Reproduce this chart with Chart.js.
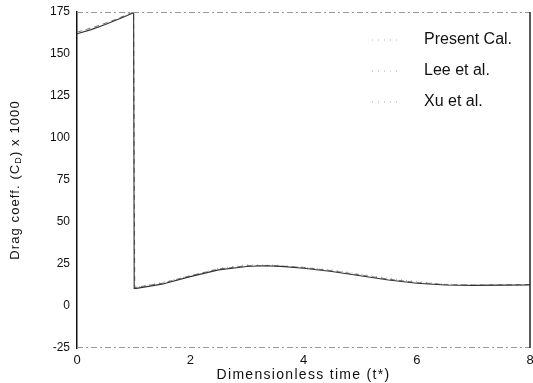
<!DOCTYPE html>
<html lang="en">
<head>
  <meta charset="UTF-8" />
  <title>Drag coefficient</title>
  <style>
    html, body { margin: 0; padding: 0; background: #fff; }
    #wrap { width: 533px; height: 383px; }
  </style>
</head>
<body>
  <div id="wrap"><canvas id="myChart" width="533" height="383"></canvas></div>
  <script src="https://cdn.jsdelivr.net/npm/chart.js@4.4.1/dist/chart.umd.min.js"></script>
  <script>
    // series data (t*, Cd x 1000)
    const presentT = [0, 0.25, 0.5, 0.75, 1.0, 1.01, 1.05, 1.5, 2, 2.5, 3, 3.3, 3.6, 4, 4.5, 5, 5.5, 6, 6.5, 7, 7.5, 8];
    const presentCd = [162, 164.5, 167.5, 171, 174.5, 10.5, 10.5, 13, 17.5, 21.5, 23.5, 24, 23.6, 22.5, 20.5, 18, 15.5, 13.5, 12.5, 12.3, 12.4, 12.5];
    const leeT = [0, 0.3, 0.6, 1.0, 1.02, 1.5, 2, 2.5, 3, 3.5, 4, 4.5, 5, 5.5, 6, 6.5, 7, 7.5, 8];
    const leeCd = [163, 166, 169.5, 175, 11, 13.5, 18, 22, 24, 24, 23, 21, 18.5, 16, 14, 12.8, 12.4, 12.6, 12.8];
    const xuT = [1.1, 1.5, 2, 2.5, 3, 3.5, 4, 4.5, 5, 5.5, 6, 6.5, 7, 7.5, 8];
    const xuCd = [11.5, 14, 18, 22.5, 24.5, 24.3, 23, 21.5, 19, 16.5, 14.5, 13, 12.5, 12.3, 12.5];

    const seriesNames = ["Present Cal.", "Lee et al.", "Xu et al."];
    const yTicks = [-25, 0, 25, 50, 75, 100, 125, 150, 175];
    const xTicks = [0, 2, 4, 6, 8];
    const xTitle = "Dimensionless time (t*)";

    const toPoints = (xs, ys) => xs.map((x, i) => ({ x: x, y: ys[i] }));

    const fontFam = "'Liberation Sans', Arial, sans-serif";

    // frame + legend + axis titles (y one has a subscript)
    const extras = {
      id: "extras",
      afterDraw(chart) {
        const { ctx, chartArea: a } = chart;
        ctx.save();
        // top and bottom borders, faint and dashed
        ctx.strokeStyle = "#999";
        ctx.lineWidth = 1;
        ctx.setLineDash([6, 3, 2, 3]);
        ctx.beginPath();
        ctx.moveTo(a.left, a.top + 0.5);
        ctx.lineTo(a.right, a.top + 0.5);
        ctx.moveTo(a.left, a.bottom - 0.5);
        ctx.lineTo(a.right, a.bottom - 0.5);
        ctx.stroke();
        ctx.setLineDash([]);
        // right border
        ctx.strokeStyle = "#222";
        ctx.lineWidth = 1.5;
        ctx.beginPath();
        ctx.moveTo(a.right, a.top);
        ctx.lineTo(a.right, a.bottom);
        ctx.stroke();

        // legend
        const ds = chart.data.datasets;
        const ly = [40, 71, 102];
        ctx.font = "16px " + fontFam;
        ctx.textBaseline = "middle";
        ds.forEach((d, i) => {
          ctx.strokeStyle = "#aaa";
          ctx.lineWidth = 1;
          ctx.setLineDash([1, 5]);
          ctx.beginPath();
          ctx.moveTo(372, ly[i]);
          ctx.lineTo(402, ly[i]);
          ctx.stroke();
          ctx.setLineDash([]);
          ctx.fillStyle = "#111";
          ctx.fillText(d.label, 424, ly[i]);
        });

        // x axis title
        ctx.fillStyle = "#111";
        ctx.font = "14px " + fontFam;
        ctx.letterSpacing = "1.3px";
        ctx.textAlign = "center";
        ctx.fillText(xTitle, (a.left + a.right) / 2, 375);
        ctx.textAlign = "left";

        // y axis title
        ctx.translate(15, (a.top + a.bottom) / 2);
        ctx.rotate(-Math.PI / 2);
        const p1 = "Drag coeff. (C", p2 = "D", p3 = ") x 1000";
        ctx.letterSpacing = "1.1px";
        ctx.font = "13px " + fontFam;
        const w1 = ctx.measureText(p1).width, w3 = ctx.measureText(p3).width;
        ctx.font = "9px " + fontFam;
        const w2 = ctx.measureText(p2).width;
        let x0 = -(w1 + w2 + w3) / 2;
        ctx.font = "13px " + fontFam;
        ctx.fillText(p1, x0, 0);
        ctx.font = "9px " + fontFam;
        ctx.fillText(p2, x0 + w1, 4);
        ctx.font = "13px " + fontFam;
        ctx.fillText(p3, x0 + w1 + w2, 0);
        ctx.restore();
      }
    };

    new Chart(document.getElementById("myChart"), {
      type: "scatter",
      data: {
        datasets: [
          {
            label: seriesNames[0],
            data: toPoints(presentT, presentCd),
            showLine: true,
            borderColor: "#333",
            borderWidth: 1.1,
            pointRadius: 0,
            tension: 0
          },
          {
            label: seriesNames[1],
            data: toPoints(leeT, leeCd),
            showLine: true,
            borderColor: "#777",
            borderWidth: 1,
            borderDash: [5, 4],
            pointRadius: 0,
            tension: 0
          },
          {
            label: seriesNames[2],
            data: toPoints(xuT, xuCd),
            showLine: true,
            borderColor: "#999",
            borderWidth: 1,
            borderDash: [1, 4],
            pointRadius: 0,
            tension: 0
          }
        ]
      },
      options: {
        responsive: false,
        animation: false,
        layout: { padding: { top: 12, right: 3, left: 0, bottom: 0 } },
        plugins: { legend: { display: false }, tooltip: { enabled: false } },
        scales: {
          x: {
            type: "linear",
            min: 0,
            max: 8,
            afterBuildTicks: (s) => { s.ticks = xTicks.map((v) => ({ value: v })); },
            afterFit: (s) => { s.height = 35; s.paddingRight = 0; s.paddingLeft = 0; },
            grid: { display: false, drawTicks: false },
            border: { display: false },
            ticks: { color: "#111", padding: 5, font: { family: fontFam, size: 13 } }
          },
          y: {
            min: -25,
            max: 175,
            afterBuildTicks: (s) => { s.ticks = yTicks.map((v) => ({ value: v })); },
            afterFit: (s) => { s.width = 77; s.paddingTop = 0; s.paddingBottom = 0; },
            grid: { display: false, drawTicks: false },
            border: { display: true, color: "#111", width: 1.5 },
            ticks: { color: "#111", padding: 7, font: { family: fontFam, size: 12 } }
          }
        }
      },
      plugins: [extras]
    });
  </script>
</body>
</html>
